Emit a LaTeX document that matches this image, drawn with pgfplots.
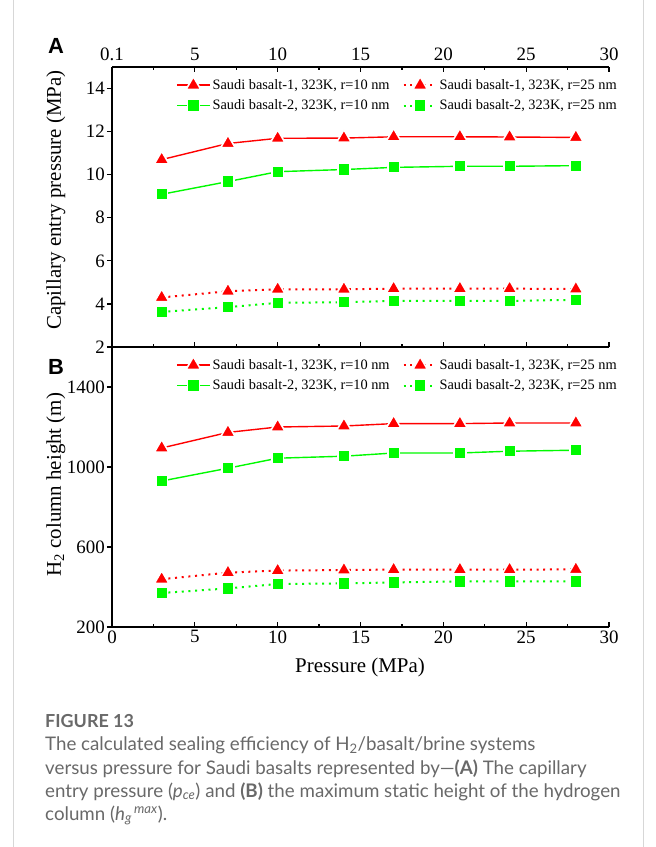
\documentclass[border=0pt]{standalone}
\usepackage{fontspec}
\setmainfont{Liberation Serif}
\newfontfamily\capfont{Lato}
\newfontfamily\panelfont{Liberation Sans}
\usepackage{pgfplots}
\usepackage{pgfplotstable}
\pgfplotsset{compat=1.18}
\definecolor{myred}{RGB}{255,0,0}
\definecolor{mygreen}{RGB}{0,250,0}
\definecolor{capgray}{RGB}{105,105,105}
\definecolor{boxgray}{RGB}{215,215,215}

\pgfplotstableread{
x   r10    r25   g10    g25
3   10.70  4.30  9.09   3.63
7   11.45  4.59  9.68   3.85
10  11.69  4.68  10.14  4.05
14  11.70  4.68  10.24  4.08
17  11.76  4.71  10.34  4.14
21  11.76  4.71  10.39  4.14
24  11.75  4.71  10.39  4.14
28  11.73  4.69  10.42  4.19
}\tabA

\pgfplotstableread{
x   r10   r25  g10   g25
3   1095  439  930   370
7   1173  472  994   393
10  1200  482  1044  415
14  1205  485  1054  418
17  1217  487  1070  423
21  1217  487  1070  428
24  1220  487  1079  428
28  1220  488  1084  428
}\tabB

\pgfplotsset{
  common/.style={
    width=497bp, height=280bp, scale only axis,
    xmin=0, xmax=30,
    axis y line*=left,
    axis line style={line width=1.6bp, black},
    xtick align=inside, ytick align=outside,
    major tick length=5bp, minor tick length=3bp,
    tick style={black, line width=1.2bp},
    minor x tick num=1,
    xtick={0,5,...,30},
    ytick pos=left,
    tick label style={font=\fontsize{19}{19}\selectfont},
    yticklabel style={inner sep=2bp},
    /pgf/number format/assume math mode=true,
    /pgf/number format/1000 sep={},
    label style={font=\fontsize{21}{22}\selectfont},
    legend columns=2,
    legend cell align=left,
    legend style={draw=none, fill=none, font=\fontsize{14.4}{17}\selectfont,
      at={(0.1288,0.966)}, anchor=north west, inner sep=0pt, row sep=5bp,
      /tikz/every even column/.append style={column sep=11bp}},
    legend image code/.code={\draw[mark repeat=2,mark phase=2] plot coordinates {(0bp,0bp) (16.5bp,0bp) (33bp,0bp)};},
  },
  sr/.style={myred, line width=1.4bp, mark=triangle*, mark size=8.4bp, mark options={solid, draw=white, line width=1.6bp, line join=round}},
  sg/.style={mygreen, line width=1.4bp, mark=square*, mark size=5.9bp, mark options={solid, draw=white, line width=1.6bp}},
  dr/.style={myred, line width=2bp, dash pattern=on 2bp off 4.7bp, mark=triangle*, mark size=8.4bp, mark options={solid, draw=white, line width=1.6bp, line join=round}},
  dg/.style={mygreen, line width=2bp, dash pattern=on 2bp off 4.7bp, mark=square*, mark size=5.9bp, mark options={solid, draw=white, line width=1.6bp}},
}

\begin{document}
\begin{tikzpicture}
\path[use as bounding box] (0,0) rectangle (656bp,-847bp);
\fill[white] (0,0) rectangle (656bp,-847bp);
\draw[boxgray, line width=1bp] (13bp,0) -- (13bp,-847bp);
\draw[boxgray, line width=1bp] (643bp,0) -- (643bp,-847bp);

\begin{axis}[common,
  at={(112bp,-67bp)}, anchor=north west,
  ymin=2, ymax=15, ytick={2,4,...,14},
  axis x line*=box, xtick pos=both, xticklabel pos=top,
  xticklabels={0.1,5,10,15,20,25,30},
  xticklabel style={yshift=3bp},
  ylabel={Capillary entry pressure (MPa)},
  ylabel style={at={([xshift=-56bp]axis description cs:0,0.525)}, anchor=center},
]
\addplot[sr] table[x=x, y=r10] {\tabA};
\addlegendentry{Saudi basalt-1, 323K, r=10 nm}
\addplot[dr] table[x=x, y=r25] {\tabA};
\addlegendentry{Saudi basalt-1, 323K, r=25 nm}
\addplot[sg] table[x=x, y=g10] {\tabA};
\addlegendentry{Saudi basalt-2, 323K, r=10 nm}
\addplot[dg] table[x=x, y=g25] {\tabA};
\addlegendentry{Saudi basalt-2, 323K, r=25 nm}
\end{axis}

\begin{axis}[common,
  at={(112bp,-347bp)}, anchor=north west,
  ymin=200, ymax=1600, ytick={200,600,1000,1400},
  axis x line*=bottom, xtick pos=bottom,
  xlabel={Pressure (MPa)},
  xlabel style={at={([yshift=-40bp]axis description cs:0.499,0)}, anchor=center},
  ylabel={H\textsubscript{2} column height (m)},
  ylabel style={at={([xshift=-56bp]axis description cs:0,0.508)}, anchor=center},
]
\addplot[sr] table[x=x, y=r10] {\tabB};
\addlegendentry{Saudi basalt-1, 323K, r=10 nm}
\addplot[dr] table[x=x, y=r25] {\tabB};
\addlegendentry{Saudi basalt-1, 323K, r=25 nm}
\addplot[sg] table[x=x, y=g10] {\tabB};
\addlegendentry{Saudi basalt-2, 323K, r=10 nm}
\addplot[dg] table[x=x, y=g25] {\tabB};
\addlegendentry{Saudi basalt-2, 323K, r=25 nm}
\end{axis}

\node[font=\panelfont\bfseries\fontsize{22}{22}\selectfont] at (56bp,-46bp) {A};
\node[font=\panelfont\bfseries\fontsize{22}{22}\selectfont] at (56bp,-367bp) {B};

\node[anchor=base west, inner sep=0pt, text=capgray, font=\capfont\bfseries\fontsize{18}{20}\selectfont] at (45bp,-727bp) {FIGURE 13};
\begin{scope}[every node/.style={anchor=base west, inner sep=0pt, text=capgray, font=\capfont\fontsize{18.8}{22}\selectfont}]
\node at (45bp,-750bp) {The calculated sealing efficiency of H\textsubscript{2}/basalt/brine systems};
\node at (45bp,-774bp) {versus pressure for Saudi basalts represented by—\textbf{(A)} The capillary};
\node at (45bp,-797bp) {entry pressure (\textit{p}\textsubscript{\textit{ce}}) and \textbf{(B)} the maximum static height of the hydrogen};
\node at (45bp,-820bp) {column (\textit{h}\textsubscript{\textit{g}}\textsuperscript{\,\textit{max}}).};
\end{scope}
\end{tikzpicture}
\end{document}
